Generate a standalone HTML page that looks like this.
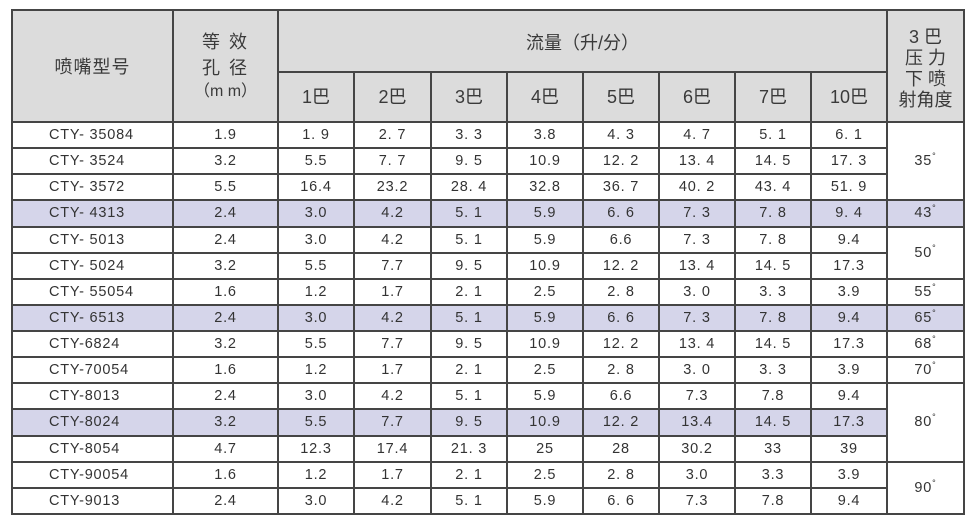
<!DOCTYPE html>
<html><head><meta charset="utf-8">
<style>
html,body{margin:0;padding:0;background:#fff;}
body{width:979px;height:531px;position:relative;overflow:hidden;font-family:"Liberation Sans","Noto Sans CJK SC",sans-serif;color:#333;}
.a{position:absolute;}
.h{position:absolute;height:2px;background:#454545;}
.v{position:absolute;width:2px;background:#454545;}
.t{position:absolute;font-size:14.5px;letter-spacing:0.8px;white-space:pre;line-height:26px;height:26px;text-align:center;}
.hd{position:absolute;font-size:18px;white-space:pre;text-align:center;line-height:22px;color:#3a3a3a;}
.dg{font-size:9px;position:relative;top:-6px;}
</style></head><body>
<!-- header background -->
<div class="a" style="left:12px;top:10px;width:952px;height:112px;background:#dcdcdc;"></div>
<!-- highlighted rows -->
<div class="a" style="left:12px;top:200.4px;width:952px;height:26.13px;background:#d5d5ea;"></div>
<div class="a" style="left:12px;top:304.93px;width:952px;height:26.13px;background:#d5d5ea;"></div>
<div class="a" style="left:12px;top:409.47px;width:875px;height:26.13px;background:#d5d5ea;"></div>

<!-- outer border -->
<div class="h" style="left:11px;top:9px;width:954px;"></div>
<div class="h" style="left:11px;top:513px;width:954px;"></div>
<div class="v" style="left:11px;top:9px;height:506px;"></div>
<div class="v" style="left:963px;top:9px;height:506px;"></div>
<!-- vertical lines -->
<div class="v" style="left:172px;top:9px;height:506px;"></div>
<div class="v" style="left:277px;top:9px;height:506px;"></div>
<div class="v" style="left:886px;top:9px;height:506px;"></div>
<div class="v" style="left:353px;top:71px;height:444px;"></div>
<div class="v" style="left:430px;top:71px;height:444px;"></div>
<div class="v" style="left:506px;top:71px;height:444px;"></div>
<div class="v" style="left:582px;top:71px;height:444px;"></div>
<div class="v" style="left:658px;top:71px;height:444px;"></div>
<div class="v" style="left:734px;top:71px;height:444px;"></div>
<div class="v" style="left:810px;top:71px;height:444px;"></div>
<!-- horizontal lines -->
<div class="h" style="left:277px;top:71px;width:611px;"></div>
<div class="h" style="left:11px;top:121px;width:954px;"></div>
<div class="h" style="left:11px;top:147.13px;width:877px;"></div>
<div class="h" style="left:11px;top:173.27px;width:877px;"></div>
<div class="h" style="left:11px;top:199.4px;width:954px;"></div>
<div class="h" style="left:11px;top:225.53px;width:954px;"></div>
<div class="h" style="left:11px;top:251.67px;width:877px;"></div>
<div class="h" style="left:11px;top:277.8px;width:954px;"></div>
<div class="h" style="left:11px;top:303.93px;width:954px;"></div>
<div class="h" style="left:11px;top:330.07px;width:954px;"></div>
<div class="h" style="left:11px;top:356.2px;width:954px;"></div>
<div class="h" style="left:11px;top:382.33px;width:954px;"></div>
<div class="h" style="left:11px;top:408.47px;width:877px;"></div>
<div class="h" style="left:11px;top:434.6px;width:877px;"></div>
<div class="h" style="left:11px;top:460.73px;width:954px;"></div>
<div class="h" style="left:11px;top:486.87px;width:877px;"></div>

<!-- header text -->
<div class="hd" style="left:12px;top:56px;width:161px;letter-spacing:1px;">喷嘴型号</div>
<div class="hd" style="left:173px;top:31px;width:105px;letter-spacing:2px;">等 效</div>
<div class="hd" style="left:173px;top:57px;width:105px;letter-spacing:2px;">孔 径</div>
<div class="hd" style="left:173px;top:81px;width:105px;font-size:16px;">（m m）</div>
<div class="hd" style="left:278px;top:32px;width:609px;">流量（升/分）</div>
<div class="hd" style="left:278px;top:86px;width:76px;">1巴</div>
<div class="hd" style="left:354px;top:86px;width:77px;">2巴</div>
<div class="hd" style="left:431px;top:86px;width:76px;">3巴</div>
<div class="hd" style="left:507px;top:86px;width:76px;">4巴</div>
<div class="hd" style="left:583px;top:86px;width:76px;">5巴</div>
<div class="hd" style="left:659px;top:86px;width:76px;">6巴</div>
<div class="hd" style="left:735px;top:86px;width:76px;">7巴</div>
<div class="hd" style="left:811px;top:86px;width:76px;">10巴</div>
<div class="hd" style="left:887px;top:27px;width:77px;line-height:21px;">3 巴<br>压 力<br>下 喷<br>射角度</div>

<!-- data rows -->
<div class="t" style="left:49px;top:122px;text-align:left;">CTY- 35084</div>
<div class="t" style="left:49px;top:148.13px;text-align:left;">CTY- 3524</div>
<div class="t" style="left:49px;top:174.27px;text-align:left;">CTY- 3572</div>
<div class="t" style="left:49px;top:200.4px;text-align:left;">CTY- 4313</div>
<div class="t" style="left:49px;top:226.53px;text-align:left;">CTY- 5013</div>
<div class="t" style="left:49px;top:252.67px;text-align:left;">CTY- 5024</div>
<div class="t" style="left:49px;top:278.8px;text-align:left;">CTY- 55054</div>
<div class="t" style="left:49px;top:304.93px;text-align:left;">CTY- 6513</div>
<div class="t" style="left:49px;top:331.07px;text-align:left;">CTY-6824</div>
<div class="t" style="left:49px;top:357.2px;text-align:left;">CTY-70054</div>
<div class="t" style="left:49px;top:383.33px;text-align:left;">CTY-8013</div>
<div class="t" style="left:49px;top:409.47px;text-align:left;">CTY-8024</div>
<div class="t" style="left:49px;top:435.6px;text-align:left;">CTY-8054</div>
<div class="t" style="left:49px;top:461.73px;text-align:left;">CTY-90054</div>
<div class="t" style="left:49px;top:487.87px;text-align:left;">CTY-9013</div>

<!-- row 1 -->
<div class="t" style="left:173px;top:122px;width:105px;">1.9</div>
<div class="t" style="left:278px;top:122px;width:76px;">1. 9</div>
<div class="t" style="left:354px;top:122px;width:77px;">2. 7</div>
<div class="t" style="left:431px;top:122px;width:76px;">3. 3</div>
<div class="t" style="left:507px;top:122px;width:76px;">3.8</div>
<div class="t" style="left:583px;top:122px;width:76px;">4. 3</div>
<div class="t" style="left:659px;top:122px;width:76px;">4. 7</div>
<div class="t" style="left:735px;top:122px;width:76px;">5. 1</div>
<div class="t" style="left:811px;top:122px;width:76px;">6. 1</div>
<!-- row 2 -->
<div class="t" style="left:173px;top:148.13px;width:105px;">3.2</div>
<div class="t" style="left:278px;top:148.13px;width:76px;">5.5</div>
<div class="t" style="left:354px;top:148.13px;width:77px;">7. 7</div>
<div class="t" style="left:431px;top:148.13px;width:76px;">9. 5</div>
<div class="t" style="left:507px;top:148.13px;width:76px;">10.9</div>
<div class="t" style="left:583px;top:148.13px;width:76px;">12. 2</div>
<div class="t" style="left:659px;top:148.13px;width:76px;">13. 4</div>
<div class="t" style="left:735px;top:148.13px;width:76px;">14. 5</div>
<div class="t" style="left:811px;top:148.13px;width:76px;">17. 3</div>
<!-- row 3 -->
<div class="t" style="left:173px;top:174.27px;width:105px;">5.5</div>
<div class="t" style="left:278px;top:174.27px;width:76px;">16.4</div>
<div class="t" style="left:354px;top:174.27px;width:77px;">23.2</div>
<div class="t" style="left:431px;top:174.27px;width:76px;">28. 4</div>
<div class="t" style="left:507px;top:174.27px;width:76px;">32.8</div>
<div class="t" style="left:583px;top:174.27px;width:76px;">36. 7</div>
<div class="t" style="left:659px;top:174.27px;width:76px;">40. 2</div>
<div class="t" style="left:735px;top:174.27px;width:76px;">43. 4</div>
<div class="t" style="left:811px;top:174.27px;width:76px;">51. 9</div>
<!-- row 4 -->
<div class="t" style="left:173px;top:200.4px;width:105px;">2.4</div>
<div class="t" style="left:278px;top:200.4px;width:76px;">3.0</div>
<div class="t" style="left:354px;top:200.4px;width:77px;">4.2</div>
<div class="t" style="left:431px;top:200.4px;width:76px;">5. 1</div>
<div class="t" style="left:507px;top:200.4px;width:76px;">5.9</div>
<div class="t" style="left:583px;top:200.4px;width:76px;">6. 6</div>
<div class="t" style="left:659px;top:200.4px;width:76px;">7. 3</div>
<div class="t" style="left:735px;top:200.4px;width:76px;">7. 8</div>
<div class="t" style="left:811px;top:200.4px;width:76px;">9. 4</div>
<!-- row 5 -->
<div class="t" style="left:173px;top:226.53px;width:105px;">2.4</div>
<div class="t" style="left:278px;top:226.53px;width:76px;">3.0</div>
<div class="t" style="left:354px;top:226.53px;width:77px;">4.2</div>
<div class="t" style="left:431px;top:226.53px;width:76px;">5. 1</div>
<div class="t" style="left:507px;top:226.53px;width:76px;">5.9</div>
<div class="t" style="left:583px;top:226.53px;width:76px;">6.6</div>
<div class="t" style="left:659px;top:226.53px;width:76px;">7. 3</div>
<div class="t" style="left:735px;top:226.53px;width:76px;">7. 8</div>
<div class="t" style="left:811px;top:226.53px;width:76px;">9.4</div>
<!-- row 6 -->
<div class="t" style="left:173px;top:252.67px;width:105px;">3.2</div>
<div class="t" style="left:278px;top:252.67px;width:76px;">5.5</div>
<div class="t" style="left:354px;top:252.67px;width:77px;">7.7</div>
<div class="t" style="left:431px;top:252.67px;width:76px;">9. 5</div>
<div class="t" style="left:507px;top:252.67px;width:76px;">10.9</div>
<div class="t" style="left:583px;top:252.67px;width:76px;">12. 2</div>
<div class="t" style="left:659px;top:252.67px;width:76px;">13. 4</div>
<div class="t" style="left:735px;top:252.67px;width:76px;">14. 5</div>
<div class="t" style="left:811px;top:252.67px;width:76px;">17.3</div>
<!-- row 7 -->
<div class="t" style="left:173px;top:278.8px;width:105px;">1.6</div>
<div class="t" style="left:278px;top:278.8px;width:76px;">1.2</div>
<div class="t" style="left:354px;top:278.8px;width:77px;">1.7</div>
<div class="t" style="left:431px;top:278.8px;width:76px;">2. 1</div>
<div class="t" style="left:507px;top:278.8px;width:76px;">2.5</div>
<div class="t" style="left:583px;top:278.8px;width:76px;">2. 8</div>
<div class="t" style="left:659px;top:278.8px;width:76px;">3. 0</div>
<div class="t" style="left:735px;top:278.8px;width:76px;">3. 3</div>
<div class="t" style="left:811px;top:278.8px;width:76px;">3.9</div>
<!-- row 8 -->
<div class="t" style="left:173px;top:304.93px;width:105px;">2.4</div>
<div class="t" style="left:278px;top:304.93px;width:76px;">3.0</div>
<div class="t" style="left:354px;top:304.93px;width:77px;">4.2</div>
<div class="t" style="left:431px;top:304.93px;width:76px;">5. 1</div>
<div class="t" style="left:507px;top:304.93px;width:76px;">5.9</div>
<div class="t" style="left:583px;top:304.93px;width:76px;">6. 6</div>
<div class="t" style="left:659px;top:304.93px;width:76px;">7. 3</div>
<div class="t" style="left:735px;top:304.93px;width:76px;">7. 8</div>
<div class="t" style="left:811px;top:304.93px;width:76px;">9.4</div>
<!-- row 9 -->
<div class="t" style="left:173px;top:331.07px;width:105px;">3.2</div>
<div class="t" style="left:278px;top:331.07px;width:76px;">5.5</div>
<div class="t" style="left:354px;top:331.07px;width:77px;">7.7</div>
<div class="t" style="left:431px;top:331.07px;width:76px;">9. 5</div>
<div class="t" style="left:507px;top:331.07px;width:76px;">10.9</div>
<div class="t" style="left:583px;top:331.07px;width:76px;">12. 2</div>
<div class="t" style="left:659px;top:331.07px;width:76px;">13. 4</div>
<div class="t" style="left:735px;top:331.07px;width:76px;">14. 5</div>
<div class="t" style="left:811px;top:331.07px;width:76px;">17.3</div>
<!-- row 10 -->
<div class="t" style="left:173px;top:357.2px;width:105px;">1.6</div>
<div class="t" style="left:278px;top:357.2px;width:76px;">1.2</div>
<div class="t" style="left:354px;top:357.2px;width:77px;">1.7</div>
<div class="t" style="left:431px;top:357.2px;width:76px;">2. 1</div>
<div class="t" style="left:507px;top:357.2px;width:76px;">2.5</div>
<div class="t" style="left:583px;top:357.2px;width:76px;">2. 8</div>
<div class="t" style="left:659px;top:357.2px;width:76px;">3. 0</div>
<div class="t" style="left:735px;top:357.2px;width:76px;">3. 3</div>
<div class="t" style="left:811px;top:357.2px;width:76px;">3.9</div>
<!-- row 11 -->
<div class="t" style="left:173px;top:383.33px;width:105px;">2.4</div>
<div class="t" style="left:278px;top:383.33px;width:76px;">3.0</div>
<div class="t" style="left:354px;top:383.33px;width:77px;">4.2</div>
<div class="t" style="left:431px;top:383.33px;width:76px;">5. 1</div>
<div class="t" style="left:507px;top:383.33px;width:76px;">5.9</div>
<div class="t" style="left:583px;top:383.33px;width:76px;">6.6</div>
<div class="t" style="left:659px;top:383.33px;width:76px;">7.3</div>
<div class="t" style="left:735px;top:383.33px;width:76px;">7.8</div>
<div class="t" style="left:811px;top:383.33px;width:76px;">9.4</div>
<!-- row 12 -->
<div class="t" style="left:173px;top:409.47px;width:105px;">3.2</div>
<div class="t" style="left:278px;top:409.47px;width:76px;">5.5</div>
<div class="t" style="left:354px;top:409.47px;width:77px;">7.7</div>
<div class="t" style="left:431px;top:409.47px;width:76px;">9. 5</div>
<div class="t" style="left:507px;top:409.47px;width:76px;">10.9</div>
<div class="t" style="left:583px;top:409.47px;width:76px;">12. 2</div>
<div class="t" style="left:659px;top:409.47px;width:76px;">13.4</div>
<div class="t" style="left:735px;top:409.47px;width:76px;">14. 5</div>
<div class="t" style="left:811px;top:409.47px;width:76px;">17.3</div>
<!-- row 13 -->
<div class="t" style="left:173px;top:435.6px;width:105px;">4.7</div>
<div class="t" style="left:278px;top:435.6px;width:76px;">12.3</div>
<div class="t" style="left:354px;top:435.6px;width:77px;">17.4</div>
<div class="t" style="left:431px;top:435.6px;width:76px;">21. 3</div>
<div class="t" style="left:507px;top:435.6px;width:76px;">25</div>
<div class="t" style="left:583px;top:435.6px;width:76px;">28</div>
<div class="t" style="left:659px;top:435.6px;width:76px;">30.2</div>
<div class="t" style="left:735px;top:435.6px;width:76px;">33</div>
<div class="t" style="left:811px;top:435.6px;width:76px;">39</div>
<!-- row 14 -->
<div class="t" style="left:173px;top:461.73px;width:105px;">1.6</div>
<div class="t" style="left:278px;top:461.73px;width:76px;">1.2</div>
<div class="t" style="left:354px;top:461.73px;width:77px;">1.7</div>
<div class="t" style="left:431px;top:461.73px;width:76px;">2. 1</div>
<div class="t" style="left:507px;top:461.73px;width:76px;">2.5</div>
<div class="t" style="left:583px;top:461.73px;width:76px;">2. 8</div>
<div class="t" style="left:659px;top:461.73px;width:76px;">3.0</div>
<div class="t" style="left:735px;top:461.73px;width:76px;">3.3</div>
<div class="t" style="left:811px;top:461.73px;width:76px;">3.9</div>
<!-- row 15 -->
<div class="t" style="left:173px;top:487.87px;width:105px;">2.4</div>
<div class="t" style="left:278px;top:487.87px;width:76px;">3.0</div>
<div class="t" style="left:354px;top:487.87px;width:77px;">4.2</div>
<div class="t" style="left:431px;top:487.87px;width:76px;">5. 1</div>
<div class="t" style="left:507px;top:487.87px;width:76px;">5.9</div>
<div class="t" style="left:583px;top:487.87px;width:76px;">6. 6</div>
<div class="t" style="left:659px;top:487.87px;width:76px;">7.3</div>
<div class="t" style="left:735px;top:487.87px;width:76px;">7.8</div>
<div class="t" style="left:811px;top:487.87px;width:76px;">9.4</div>

<!-- angle column -->
<div class="t" style="left:887px;top:148.13px;width:77px;">35<span class="dg">°</span></div>
<div class="t" style="left:887px;top:200.4px;width:77px;">43<span class="dg">°</span></div>
<div class="t" style="left:887px;top:239.6px;width:77px;">50<span class="dg">°</span></div>
<div class="t" style="left:887px;top:278.8px;width:77px;">55<span class="dg">°</span></div>
<div class="t" style="left:887px;top:304.93px;width:77px;">65<span class="dg">°</span></div>
<div class="t" style="left:887px;top:331.07px;width:77px;">68<span class="dg">°</span></div>
<div class="t" style="left:887px;top:357.2px;width:77px;">70<span class="dg">°</span></div>
<div class="t" style="left:887px;top:409.47px;width:77px;">80<span class="dg">°</span></div>
<div class="t" style="left:887px;top:474.8px;width:77px;">90<span class="dg">°</span></div>
</body></html>
